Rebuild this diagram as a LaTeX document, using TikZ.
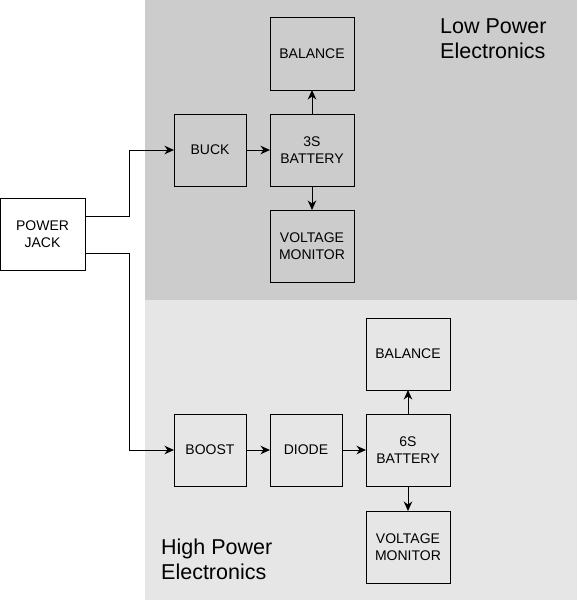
\documentclass[tikz,border=0pt]{standalone}
\usepackage{fontspec}
\setmainfont{Liberation Sans}
\definecolor{lowgray}{RGB}{204, 204, 204}
\definecolor{highgray}{RGB}{230, 230, 230}
\usetikzlibrary{arrows.meta, positioning}

\begin{document}
\begin{tikzpicture}[x=1pt, y=-1pt,
  block/.style={draw, line width=1pt, outer sep=0pt, inner sep=0pt, minimum width=72pt, minimum height=72pt, align=center, font=\fontsize{14}{17}\selectfont},
  wideblock/.style={block, minimum width=84pt},
  zonetitle/.style={anchor=north west, inner sep=0pt, align=left, font=\fontsize{21.5}{25}\selectfont},
  link/.style={line width=1pt, -{Stealth[length=9.5pt, width=8.5pt, inset=3pt]}}]
  \useasboundingbox (0, 0) rectangle (578, 602);

  % power zones
  \fill[lowgray] (145, 0) rectangle (577, 300);
  \fill[highgray] (145, 300) rectangle (577, 600);
  \node[zonetitle] (lowtitle) at (440, 18.5) {Low Power\\Electronics};
  \node[zonetitle] (hightitle) at (161, 539) {High Power\\Electronics};

  % input
  \node[wideblock, minimum width=85pt] (jack) at (42.5, 234) {POWER\\JACK};

  % low power side
  \node[block] (buck) at (210, 150) {BUCK};
  \node[wideblock, right=24pt of buck] (bat3) {3S\\BATTERY};
  \node[wideblock, above=24pt of bat3] (bal3) {BALANCE};
  \node[wideblock, below=24pt of bat3] (mon3) {VOLTAGE\\MONITOR};

  % high power side
  \node[block] (boost) at (210, 450) {BOOST};
  \node[block, right=24pt of boost] (diode) {DIODE};
  \node[wideblock, right=24pt of diode] (bat6) {6S\\BATTERY};
  \node[wideblock, above=24pt of bat6] (bal6) {BALANCE};
  \node[wideblock, below=25pt of bat6] (mon6) {VOLTAGE\\MONITOR};

  \draw[link] ([yshift=18pt]jack.east) -- ++(44, 0) |- (buck);
  \draw[link] ([yshift=-19pt]jack.east) -- ++(44, 0) |- (boost);
  \draw[link] (buck) -- (bat3);
  \draw[link] (bat3) -- (bal3);
  \draw[link] (bat3) -- (mon3);
  \draw[link] (boost) -- (diode);
  \draw[link] (diode) -- (bat6);
  \draw[link] (bat6) -- (bal6);
  \draw[link] (bat6) -- (mon6);
\end{tikzpicture}
\end{document}
